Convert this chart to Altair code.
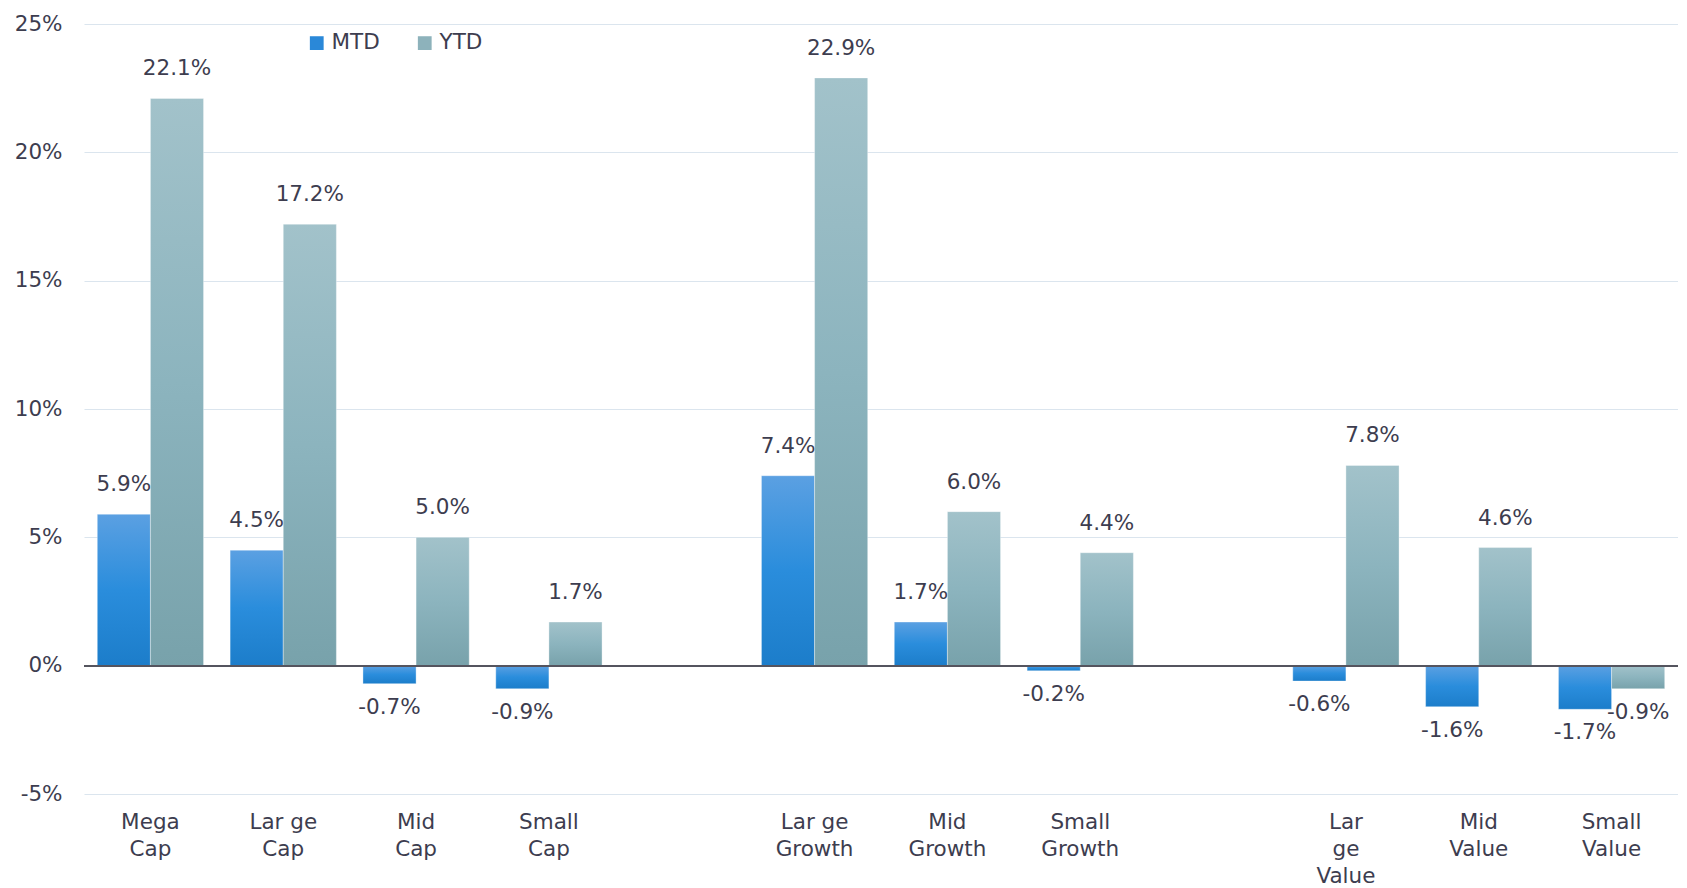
import altair as alt
import pandas as pd

categories = ["Mega|Cap", "Lar ge|Cap", "Mid|Cap", "Small|Cap", "gap1",
              "Lar ge|Growth", "Mid|Growth", "Small|Growth", "gap2",
              "Lar|ge|Value", "Mid|Value", "Small|Value"]
mtd = [5.9, 4.5, -0.7, -0.9, None, 7.4, 1.7, -0.2, None, -0.6, -1.6, -1.7]
ytd = [22.1, 17.2, 5.0, 1.7, None, 22.9, 6.0, 4.4, None, 7.8, 4.6, -0.9]
series = ["MTD", "YTD"]
y_ticks = [-5, 0, 5, 10, 15, 20, 25]

rows = []
for c, m, y in zip(categories, mtd, ytd):
    if m is not None:
        rows.append({"cat": c, "series": "MTD", "value": m})
    if y is not None:
        rows.append({"cat": c, "series": "YTD", "value": y})
df = pd.DataFrame(rows)

FONT = "DejaVu Sans"
FS = 21.5
TXT = "#3d3d4f"

x_enc = alt.X("cat:N", sort=categories,
              scale=alt.Scale(domain=categories, paddingInner=0.2, paddingOuter=0.1),
              axis=alt.Axis(title=None, labelExpr="indexof(datum.label,'gap')==0 ? '' : split(datum.label,'|')",
                            labelAngle=0, labelFontSize=FS, labelLineHeight=27, labelColor=TXT,
                            labelFont=FONT, labelPadding=17, ticks=False, domain=False,
                            labelBaseline="top", orient="bottom", offset=0))
xo_enc = alt.XOffset("series:N", scale=alt.Scale(domain=series, paddingInner=0, paddingOuter=0))
y_enc = alt.Y("value:Q", scale=alt.Scale(domain=[-5, 25], nice=False, zero=False),
              axis=alt.Axis(title=None, values=y_ticks, labelExpr="datum.value + '%'",
                            labelFontSize=FS, labelColor=TXT, labelFont=FONT, labelPadding=22,
                            ticks=False, domain=False, gridColor="#dbe5ee", gridWidth=1.2,
                            minExtent=76, maxExtent=76))

grad_mtd = alt.Gradient(gradient="linear", x1=0, x2=0, y1=0, y2=1,
                        stops=[alt.GradientStop(color="#5ba0e2", offset=0),
                               alt.GradientStop(color="#2a8ddc", offset=0.5),
                               alt.GradientStop(color="#1c7dca", offset=1)])
grad_ytd = alt.Gradient(gradient="linear", x1=0, x2=0, y1=0, y2=1,
                        stops=[alt.GradientStop(color="#a2c2ca", offset=0),
                               alt.GradientStop(color="#8cb4be", offset=0.5),
                               alt.GradientStop(color="#78a2ab", offset=1)])

base = alt.Chart(df)

bars_mtd = base.transform_filter("datum.series == 'MTD'").mark_bar(
    color=grad_mtd, stroke="#ffffff", strokeOpacity=0.35, strokeWidth=1
).encode(x=x_enc, xOffset=xo_enc, y=y_enc, y2=alt.datum(0))

bars_ytd = base.transform_filter("datum.series == 'YTD'").mark_bar(
    color=grad_ytd, stroke="#ffffff", strokeOpacity=0.35, strokeWidth=1
).encode(x=x_enc, xOffset=xo_enc, y=y_enc, y2=alt.datum(0))

labels = base.transform_calculate(
    lbl="(datum.value < 0 ? '-' : '') + format(abs(datum.value), '.1f') + '%'")
txt_pos = labels.transform_filter("datum.value >= 0").mark_text(
    font=FONT, fontSize=FS, color=TXT, baseline="middle", dy=-29
).encode(x=x_enc, xOffset=xo_enc, y=y_enc, text="lbl:N")
txt_neg = labels.transform_filter("datum.value < 0").mark_text(
    font=FONT, fontSize=FS, color=TXT, baseline="middle", dy=24
).encode(x=x_enc, xOffset=xo_enc, y=y_enc, text="lbl:N")

zero = alt.Chart(df).mark_rule(color="#55555f", strokeWidth=1.5).encode(y=alt.datum(0))

legend_layer = base.mark_square(opacity=0).encode(
    x=x_enc, xOffset=xo_enc, y=y_enc,
    color=alt.Color("series:N", scale=alt.Scale(domain=series, range=["#2a88d8", "#8db2bb"]),
                    legend=alt.Legend(title=None, orient="none", legendX=222, legendY=8,
                                      direction="horizontal", symbolType="square",
                                      symbolSize=190, symbolOpacity=1, symbolStrokeWidth=0,
                                      labelFontSize=FS, labelFont=FONT, labelColor=TXT,
                                      labelOffset=4, columnPadding=34))
)

chart = alt.layer(bars_mtd, bars_ytd, zero, txt_pos, txt_neg, legend_layer).properties(
    width=1594, height=770,
    autosize=alt.AutoSizeParams(type="none"),
    padding={"left": 76, "top": 16, "right": 0, "bottom": 96}
).configure_view(stroke=None)

chart.save("out.html", embed_options={"renderer": "svg", "actions": False})
